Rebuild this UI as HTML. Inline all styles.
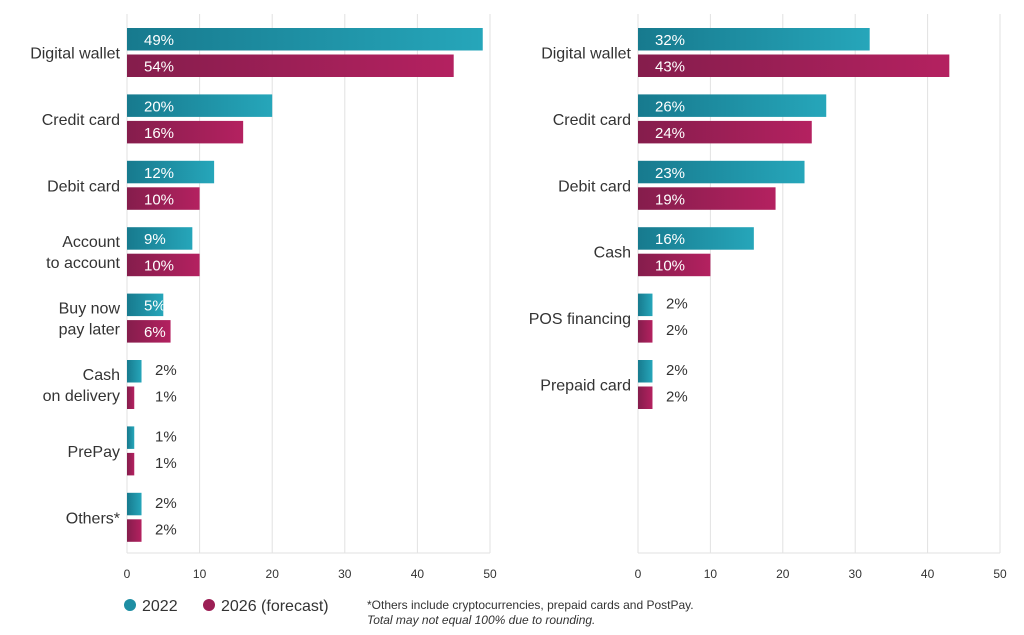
<!DOCTYPE html>
<html><head><meta charset="utf-8">
<style>
html,body{margin:0;padding:0;background:#fff;}
svg{display:block;font-family:"Liberation Sans Narrow","Liberation Sans",sans-serif;}
</style></head>
<body>
<svg id="chart" width="1024" height="635" viewBox="0 0 1024 635" xmlns="http://www.w3.org/2000/svg">
<defs>
<linearGradient id="gT" x1="0" x2="1" y1="0" y2="0"><stop offset="0" stop-color="#177a8e"/><stop offset="1" stop-color="#26a6ba"/></linearGradient>
<linearGradient id="gM" x1="0" x2="1" y1="0" y2="0"><stop offset="0" stop-color="#851d4c"/><stop offset="1" stop-color="#b42160"/></linearGradient>
</defs>
<g id="legend">
<g><circle cx="130" cy="605" r="6" fill="#1e8ea3"/><text x="142" y="611" font-size="16" fill="#333">2022</text></g>
<g><circle cx="209" cy="605" r="6" fill="#9c1f55"/><text x="221" y="611" font-size="16" fill="#333">2026 (forecast)</text></g>
<text x="367" y="609" font-size="12" fill="#333">*Others include cryptocurrencies, prepaid cards and PostPay.</text>
<text x="367" y="624" font-size="12" font-style="italic" fill="#333">Total may not equal 100% due to rounding.</text>
</g>
</svg>
<script>
const leftCategories=[["Digital wallet"],["Credit card"],["Debit card"],["Account","to account"],["Buy now","pay later"],["Cash","on delivery"],["PrePay"],["Others*"]];
const left2022=[49,20,12,9,5,2,1,2];
const left2026=[45,16,10,10,6,1,1,2];
const left2022Labels=["49%","20%","12%","9%","5%","2%","1%","2%"];
const left2026Labels=["54%","16%","10%","10%","6%","1%","1%","2%"];
const rightCategories=[["Digital wallet"],["Credit card"],["Debit card"],["Cash"],["POS financing"],["Prepaid card"]];
const right2022=[32,26,23,16,2,2];
const right2026=[43,24,19,10,2,2];
const right2022Labels=["32%","26%","23%","16%","2%","2%"];
const right2026Labels=["43%","24%","19%","10%","2%","2%"];
const ticks=[0,10,20,30,40,50];

const NS="http://www.w3.org/2000/svg";
const svg=document.getElementById('chart');
let clipId=0;
function mk(tag,attrs,parent){const e=document.createElementNS(NS,tag);for(const k in attrs)e.setAttribute(k,attrs[k]);parent.appendChild(e);return e;}

function panel(name,x0,x50,cats,v1,v2,l1,l2){
  const g=mk('g',{},svg);
  
  
  const xs=v=>x0+(x50-x0)*v/50;
  const rowY=i=>28+i*66.4;
  ticks.forEach(t=>{
    const ln=mk('line',{x1:xs(t),x2:xs(t),y1:14,y2:553,stroke:'#e2e2e2','stroke-width':1},g);
    
    
    const tx=mk('text',{x:xs(t),y:578,'text-anchor':'middle','font-size':12,fill:'#333'},g);
    tx.textContent=t;
    
    
  });
  const base=mk('line',{x1:x0,x2:x50,y1:553,y2:553,stroke:'#e2e2e2'},g);
  
  
  cats.forEach((c,i)=>{
    const cy=rowY(i)+24.5;
    const t=mk('text',{x:x0-7,'text-anchor':'end','font-size':16,fill:'#333'},g);
    
    
    c.forEach((line,j)=>{
      const ts=mk('tspan',{x:x0-7,y:cy+6+(j-(c.length-1)/2)*21},t);
      ts.textContent=line;
    });
    [[v1[i],l1[i],'url(#gT)',rowY(i),'2022'],[v2[i],l2[i],'url(#gM)',rowY(i)+26.5,'2026']].forEach(([v,lab,fill,y,yr])=>{
      const w=xs(v)-x0;
      const r=mk('rect',{x:x0,y:y,width:w,height:22.5,fill:fill},g);
      
      
      let tx;
      if(v>=4){
        const id='clip'+(clipId++);
        const cp=mk('clipPath',{id:id},g);
        mk('rect',{x:x0,y:y,width:w,height:22.5},cp);
        tx=mk('text',{x:x0+17,y:y+17,'font-size':15,fill:'#fff','clip-path':'url(#'+id+')'},g);
      }else{
        tx=mk('text',{x:x0+28,y:y+15,'font-size':15,fill:'#333'},g);
      }
      tx.textContent=lab;
      
      
    });
  });
}
panel('left-panel',127,490,leftCategories,left2022,left2026,left2022Labels,left2026Labels);
panel('right-panel',638,1000,rightCategories,right2022,right2026,right2022Labels,right2026Labels);
</script>
</body></html>
